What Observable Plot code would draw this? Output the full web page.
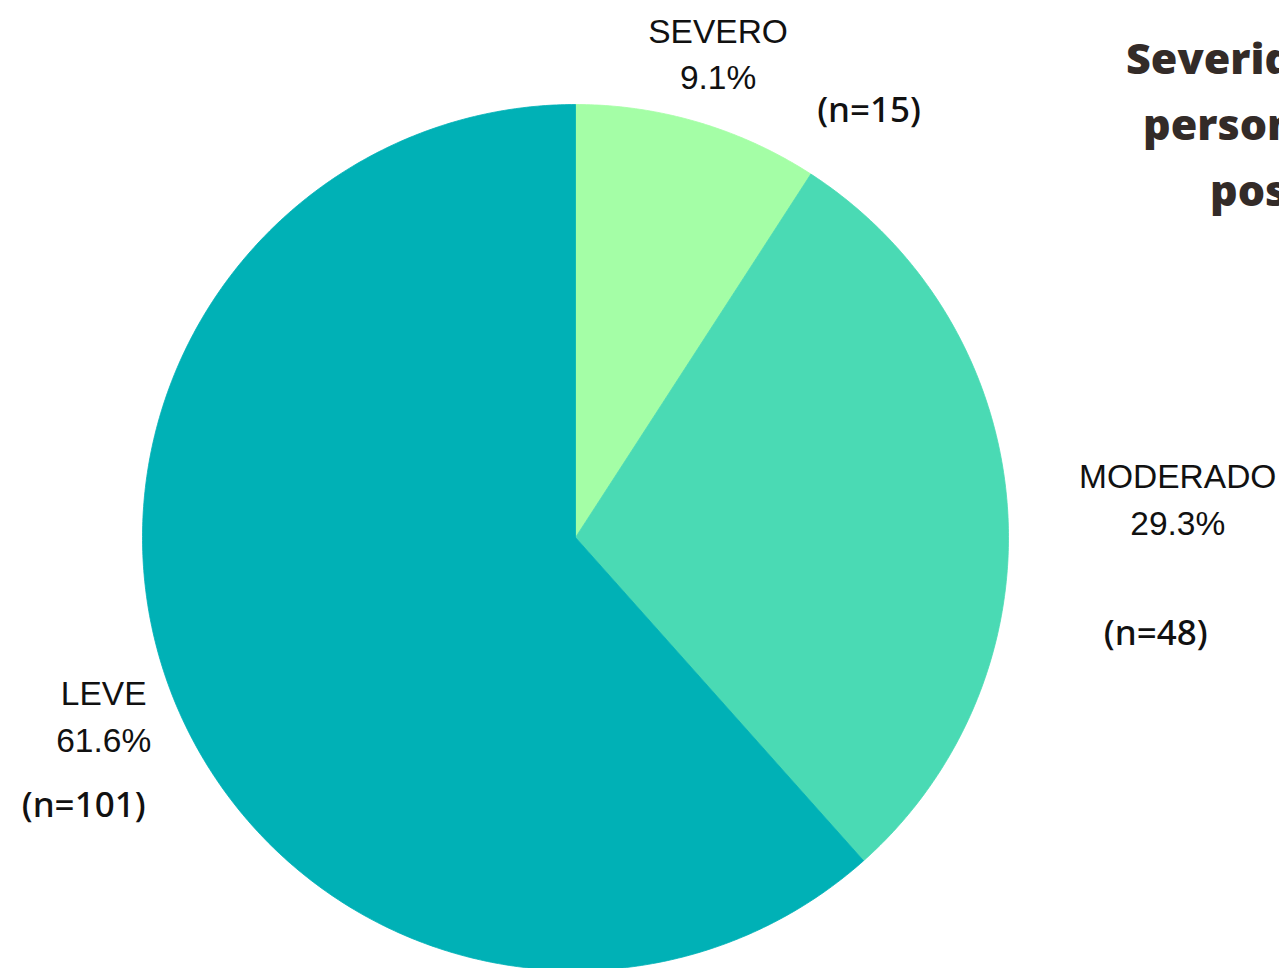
<!DOCTYPE html>
<html>
<head>
<meta charset="utf-8">
<script src="https://cdn.jsdelivr.net/npm/d3@7"></script>
<script src="https://cdn.jsdelivr.net/npm/@observablehq/plot@0.6"></script>
<style>
  html, body { margin: 0; padding: 0; background: #fff; overflow: hidden; width: 1279px; height: 968px; }
  #wrap { position: relative; width: 1279px; height: 968px; }
  .title { position: absolute; font-family: "Open Sans", sans-serif; font-weight: 800; font-size: 43px; color: #332b28; white-space: nowrap; line-height: 1; }
</style>
</head>
<body>
<div id="wrap">
  <div id="chart"></div>
  <div class="title" style="left:1126px; top:36px;">Severidad</div>
  <div class="title" style="left:1143px; top:102px;">personas</div>
  <div class="title" style="left:1210px; top:168px;">post</div>
</div>
<script>
// ---- data ----
const categories = ["SEVERO", "MODERADO", "LEVE"];
const counts = [15, 48, 101];
const colors = ["#a4fea6", "#4adab4", "#00b1b6"];

// ---- layout constants ----
const W = 1279, H = 968;
const CX = 575, CY = 537, R = 433; // pie center & radius in pixels
const labelLayout = {
  SEVERO:   { r: 1.162, dy: -4, ndx: 151, ndy: 60 },
  MODERADO: { r: 1.395, dy: 5,  ndx: -22, ndy: 138 },
  LEVE:     { r: 1.166, dy: -4, ndx: -20, ndy: 93 }
};

const total = d3.sum(counts);
const pie = d3.pie().sort(null).value(d => d.count);
const arcs = pie(categories.map((name, i) => ({ name, count: counts[i], color: colors[i] })));

// polygon points of each slice (angles clockwise from 12 o'clock, unit radius)
const slices = arcs.map(a => {
  const pts = [{ x: 0, y: 0 }];
  const steps = Math.max(2, Math.ceil((a.endAngle - a.startAngle) / (Math.PI / 360)));
  for (let k = 0; k <= steps; k++) {
    const t = a.startAngle + (a.endAngle - a.startAngle) * k / steps;
    pts.push({ x: Math.sin(t), y: Math.cos(t) });
  }
  pts.push({ x: 0, y: 0 });
  return { name: a.data.name, color: a.data.color, pts };
});

const labels = arcs.map(a => {
  const mid = (a.startAngle + a.endAngle) / 2;
  const L = labelLayout[a.data.name];
  return {
    name: a.data.name,
    x: L.r * Math.sin(mid),
    y: L.r * Math.cos(mid),
    dy: L.dy, ndx: L.ndx, ndy: L.ndy,
    text: `${a.data.name}\n${(a.data.count / total * 100).toFixed(1)}%`,
    n: `(n=${a.data.count})`
  };
});

const chart = Plot.plot({
  width: W,
  height: H,
  margin: 0,
  style: { background: "#fff", overflow: "visible" },
  x: { axis: null, domain: [-CX / R, (W - CX) / R] },
  y: { axis: null, domain: [-(H - CY) / R, CY / R] },
  marks: [
    ...slices.map(s => Plot.line(s.pts, { x: "x", y: "y", fill: s.color, stroke: s.color, strokeWidth: 0.8, curve: "linear" })),
    ...labels.map(l => Plot.text([l], {
      x: "x", y: "y", text: "text", dy: l.dy,
      fontFamily: "Liberation Sans, Arial, sans-serif", fontSize: 33.5, lineHeight: 1.4,
      textAnchor: "middle", lineAnchor: "middle", fill: "#111"
    })),
    ...labels.map(l => Plot.text([l], {
      x: "x", y: "y", text: "n", dx: l.ndx, dy: l.dy + l.ndy,
      fontFamily: "Noto Sans, sans-serif", fontSize: 35, fontWeight: 500,
      textAnchor: "middle", lineAnchor: "middle", fill: "#111"
    }))
  ]
});
document.getElementById("chart").appendChild(chart);
</script>
</body>
</html>
